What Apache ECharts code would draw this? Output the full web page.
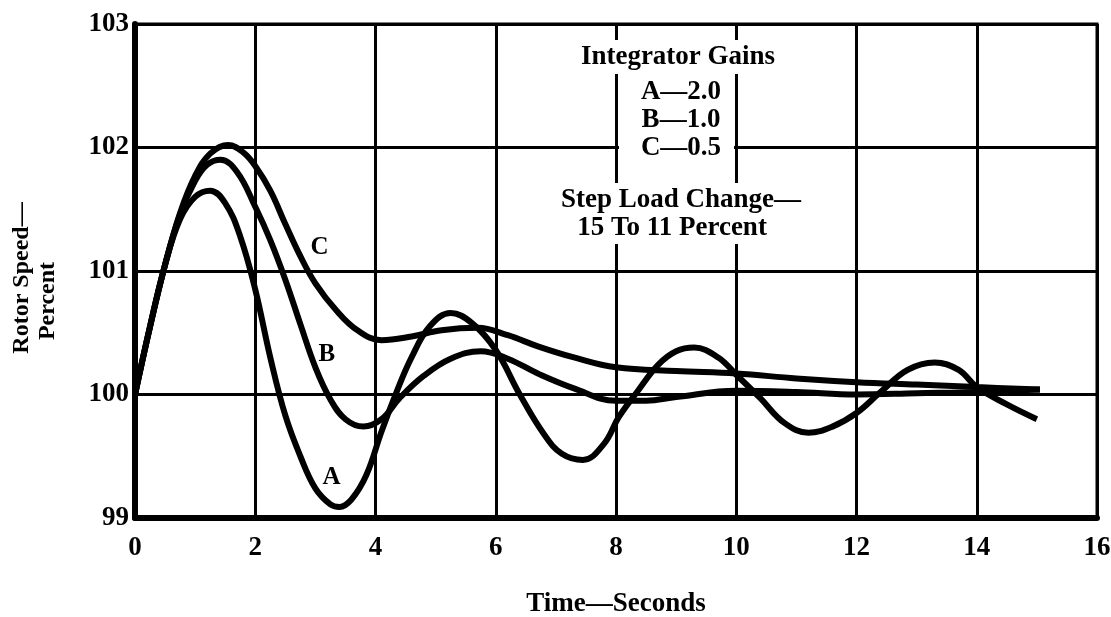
<!DOCTYPE html>
<html>
<head>
<meta charset="utf-8">
<style>
  html, body { margin: 0; padding: 0; background: #fff; }
  #chart { width: 1111px; height: 617px; }
</style>
<script src="https://cdn.jsdelivr.net/npm/echarts@6/dist/echarts.min.js"></script>
</head>
<body>
<div id="chart"></div>
<script>
// Rotor speed response (percent) versus time (seconds) for three integrator gains
const timeA = [0, 0.25, 0.5, 0.75, 1.0, 1.25, 1.5, 1.75, 2.0, 2.25, 2.5, 2.75, 3.0, 3.25, 3.4, 3.6, 3.85, 4.1, 4.35, 4.6, 4.9, 5.25, 5.6, 6.0, 6.4, 6.8, 7.1, 7.45, 7.8, 8.05, 8.35, 8.7, 9.0, 9.3, 9.7, 10.0, 10.4, 10.8, 11.2, 11.6, 12.0, 12.4, 12.85, 13.3, 13.7, 14.0, 14.5, 15.0];
const speedA = [100.0, 100.55, 101.05, 101.42, 101.6, 101.65, 101.55, 101.28, 100.85, 100.3, 99.83, 99.5, 99.24, 99.11, 99.09, 99.15, 99.35, 99.7, 100.02, 100.3, 100.55, 100.66, 100.58, 100.36, 100.0, 99.68, 99.52, 99.47, 99.6, 99.82, 100.02, 100.24, 100.35, 100.38, 100.3, 100.16, 99.97, 99.77, 99.69, 99.74, 99.85, 100.02, 100.2, 100.26, 100.2, 100.06, 99.92, 99.8];

const timeB = [0, 0.25, 0.5, 0.75, 1.0, 1.2, 1.42, 1.7, 2.0, 2.25, 2.5, 2.75, 3.0, 3.25, 3.5, 3.8, 4.1, 4.4, 4.8, 5.25, 5.75, 6.2, 6.7, 7.3, 8.0, 8.5, 9.0, 10.0, 11.0, 12.0, 13.0, 14.0, 15.05];
const speedB = [100.0, 100.55, 101.05, 101.46, 101.73, 101.86, 101.9, 101.8, 101.52, 101.25, 100.93, 100.57, 100.22, 99.96, 99.8, 99.74, 99.8, 99.97, 100.15, 100.29, 100.35, 100.29, 100.17, 100.05, 99.95, 99.95, 99.98, 100.03, 100.02, 100.0, 100.01, 100.02, 100.04];

const timeC = [0, 0.25, 0.5, 0.75, 1.0, 1.25, 1.55, 1.8, 2.0, 2.25, 2.5, 2.75, 3.0, 3.35, 3.7, 4.1, 4.6, 5.1, 5.7, 6.2, 6.7, 7.3, 8.0, 9.0, 10.0, 11.0, 12.0, 13.0, 14.0, 15.05];
const speedC = [100.0, 100.55, 101.05, 101.47, 101.77, 101.95, 102.02, 101.96, 101.85, 101.65, 101.38, 101.12, 100.9, 100.68, 100.52, 100.44, 100.47, 100.52, 100.54, 100.48, 100.39, 100.3, 100.22, 100.19, 100.17, 100.13, 100.1, 100.08, 100.06, 100.04];

// Curve letters and where they sit (time, speed)
const curveNames = ['A', 'B', 'C'];
const curveLabelAt = [[3.27, 99.33], [3.19, 100.32], [3.07, 101.19]];

const xTicks = { min: 0, max: 16, step: 2 };
const yTicks = { min: 99, max: 103, step: 1 };

const gainLines = ['A\u20142.0', 'B\u20141.0', 'C\u20140.5'];

const FONT = '"Liberation Serif", "DejaVu Serif", serif';

function pairs(t, v) { return t.map((x, i) => [x, v[i]]); }

const chart = echarts.init(document.getElementById('chart'), null, { renderer: 'canvas' });

const dataSets = [pairs(timeA, speedA), pairs(timeB, speedB), pairs(timeC, speedC)];

const series = dataSets.map((d, i) => ({
  name: curveNames[i],
  type: 'line',
  data: d,
  smooth: 0.4,
  symbol: 'none',
  lineStyle: { color: '#000', width: 6 },
  z: 5,
  animation: false,
  markPoint: {
    symbol: 'circle',
    symbolSize: 0,
    silent: true,
    data: [{ coord: curveLabelAt[i] }],
    label: {
      show: true,
      formatter: curveNames[i],
      position: 'inside',
      color: '#000',
      fontFamily: FONT,
      fontWeight: 'bold',
      fontSize: 25
    }
  }
}));

const textBase = { fill: '#000', fontFamily: FONT, fontWeight: 'bold', fontSize: 27, textAlign: 'center', textVerticalAlign: 'middle' };
const paper = { fill: '#fff', stroke: null };

const graphics = [
  // white patches where the note text interrupts the grid
  { type: 'rect', z: 99, shape: { x: 574, y: 40, width: 210, height: 34 }, style: paper },
  { type: 'rect', z: 99, shape: { x: 619, y: 139, width: 115, height: 18 }, style: paper },
  { type: 'rect', z: 99, shape: { x: 556, y: 183, width: 248, height: 61 }, style: paper },
  { type: 'text', x: 678, y: 57, z: 100, style: Object.assign({}, textBase, { text: 'Integrator Gains' }) },
  { type: 'text', x: 681, y: 92, z: 100, style: Object.assign({}, textBase, { text: gainLines[0] }) },
  { type: 'text', x: 681, y: 120, z: 100, style: Object.assign({}, textBase, { text: gainLines[1] }) },
  { type: 'text', x: 681, y: 148, z: 100, style: Object.assign({}, textBase, { text: gainLines[2] }) },
  { type: 'text', x: 681, y: 200, z: 100, style: Object.assign({}, textBase, { text: 'Step Load Change\u2014' }) },
  { type: 'text', x: 672, y: 228, z: 100, style: Object.assign({}, textBase, { text: '15 To 11 Percent' }) },
  // y-axis title, two rotated lines
  { type: 'text', x: 22, y: 278, rotation: Math.PI / 2, z: 100, style: Object.assign({}, textBase, { text: 'Rotor Speed\u2014', fontSize: 24 }) },
  { type: 'text', x: 48, y: 301, rotation: Math.PI / 2, z: 100, style: Object.assign({}, textBase, { text: 'Percent', fontSize: 24 }) }
];

const axisLabelStyle = { color: '#000', fontFamily: FONT, fontWeight: 'bold', fontSize: 27 };

chart.setOption({
  backgroundColor: '#fff',
  animation: false,
  grid: {
    left: 135, right: 14, top: 24, bottom: 99,
    outerBoundsMode: 'none',
    containLabel: false,
    show: true, borderColor: '#000', borderWidth: 3, backgroundColor: 'transparent'
  },
  xAxis: {
    type: 'value',
    min: xTicks.min, max: xTicks.max, interval: xTicks.step,
    name: 'Time\u2014Seconds',
    nameLocation: 'middle',
    nameGap: 73,
    nameTextStyle: { color: '#000', fontFamily: FONT, fontWeight: 'bold', fontSize: 27 },
    axisLine: { show: true, onZero: false, lineStyle: { color: '#000', width: 6 } },
    axisTick: { show: false },
    axisLabel: Object.assign({ margin: 17 }, axisLabelStyle),
    splitLine: { show: true, lineStyle: { color: '#000', width: 3 } }
  },
  yAxis: {
    type: 'value',
    min: yTicks.min, max: yTicks.max, interval: yTicks.step,
    axisLine: { show: true, onZero: false, lineStyle: { color: '#000', width: 6 } },
    axisTick: { show: false },
    axisLabel: Object.assign({ margin: 6 }, axisLabelStyle),
    splitLine: { show: true, lineStyle: { color: '#000', width: 3 } }
  },
  series: series,
  graphic: graphics
});
</script>
</body>
</html>
